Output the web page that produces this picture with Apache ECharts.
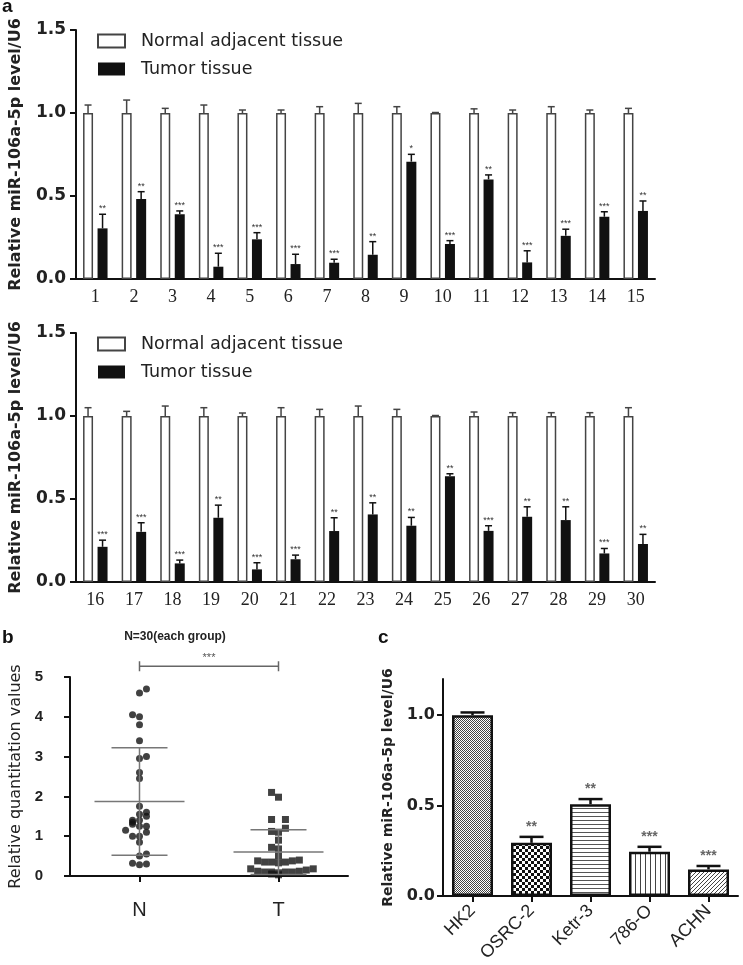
<!DOCTYPE html>
<html><head><meta charset="utf-8">
<script src="https://cdn.jsdelivr.net/npm/echarts@6/dist/echarts.min.js"></script>
<style>html,body{margin:0;padding:0;background:#fff}#c{width:743px;height:965px}</style>
</head><body><div id="c"></div>
<script>
// ---------------- DATA ----------------
const legendNames = ['Normal adjacent tissue', 'Tumor tissue'];
const casesTop = ['1','2','3','4','5','6','7','8','9','10','11','12','13','14','15'];
const casesBottom = ['16','17','18','19','20','21','22','23','24','25','26','27','28','29','30'];
const normalTop = [1,1,1,1,1,1,1,1,1,1,1,1,1,1,1];
const normalTopSD = [0.048,0.078,0.028,0.048,0.018,0.018,0.038,0.058,0.038,0.003,0.025,0.018,0.038,0.018,0.028];
const tumorTop = [0.305,0.482,0.39,0.074,0.239,0.09,0.098,0.146,0.707,0.211,0.60,0.10,0.26,0.375,0.41];
const tumorTopSD = [0.085,0.044,0.02,0.081,0.04,0.059,0.021,0.079,0.044,0.02,0.027,0.07,0.04,0.03,0.06];
const starsTop = ['**','**','***','***','***','***','***','**','*','***','**','***','***','***','**'];
const normalBottom = [1,1,1,1,1,1,1,1,1,1,1,1,1,1,1];
const normalBottomSD = [0.05,0.028,0.06,0.05,0.018,0.05,0.04,0.06,0.04,0.003,0.024,0.02,0.02,0.02,0.05];
const tumorBottom = [0.212,0.302,0.112,0.387,0.076,0.137,0.307,0.407,0.339,0.637,0.308,0.393,0.373,0.172,0.229];
const tumorBottomSD = [0.04,0.055,0.02,0.076,0.04,0.025,0.08,0.07,0.05,0.015,0.031,0.06,0.08,0.03,0.058];
const starsBottom = ['***','***','***','**','***','***','**','**','**','**','***','**','**','***','**'];

const groupsB = ['N', 'T'];
const nValues = [4.7,4.6,4.05,4.0,3.8,3.4,3.0,2.95,2.6,2.45,1.75,1.6,1.55,1.5,1.4,1.4,1.35,1.3,1.25,1.25,1.15,1.1,1.0,1.0,0.85,0.55,0.5,0.32,0.3,0.28];
const nJitterX = [1.05,1.0,0.95,1.0,1.0,1.0,1.05,1.0,1.0,1.0,1.0,1.05,1.0,1.05,0.95,1.0,0.95,0.95,1.0,1.05,0.9,1.05,0.95,1.0,1.0,1.05,1.0,0.95,1.05,1.0];
const tValues = [2.1,1.98,1.42,1.42,1.2,1.12,1.1,0.9,0.72,0.68,0.5,0.38,0.35,0.35,0.33,0.35,0.38,0.4,0.18,0.12,0.1,0.1,0.08,0.1,0.1,0.12,0.15,0.18,0.03,0.05];
const tJitterX = [1.95,2.0,1.95,2.05,2.05,1.95,2.0,2.0,1.95,2.0,2.0,1.85,1.9,1.95,2.0,2.05,2.1,2.15,1.8,1.85,1.9,1.95,2.0,2.05,2.1,2.15,2.2,2.25,2.0,1.95];
const groupMean = [1.87, 0.60];
const groupSD = [1.35, 0.56];
const bracketStars = '***';
const bracketLevel = 5.27;

const cellLines = ['HK2', 'OSRC-2', 'Ketr-3', '786-O', 'ACHN'];
const cellValues = [1.0, 0.294, 0.508, 0.245, 0.147];
const cellSD = [0.015, 0.033, 0.028, 0.027, 0.019];
const cellStars = ['', '**', '**', '***', '***'];

// ---------------- STYLE HELPERS ----------------
const SANS = 'Liberation Sans, Arial, sans-serif';
const WIDE = 'DejaVu Sans, Liberation Sans, sans-serif';
const SERIF = 'Liberation Serif, Times New Roman, serif';
const AX = '#111';

function pat(w, h, ink, draw) {
  const c = document.createElement('canvas'); c.width = w; c.height = h;
  const g = c.getContext('2d'); g.fillStyle = '#fff'; g.fillRect(0, 0, w, h);
  g.fillStyle = ink; draw(g);
  return { image: c, repeat: 'repeat' };
}
const patterns = [
  pat(2, 2, '#444', g => { g.fillRect(0, 0, 1, 1); g.fillRect(1, 1, 1, 1); }),
  pat(6, 6, '#111', g => { g.fillRect(0, 0, 3, 3); g.fillRect(3, 3, 3, 3); }),
  pat(4, 4, '#555', g => { g.fillRect(0, 0, 4, 1); }),
  pat(5, 5, '#444', g => { g.fillRect(0, 0, 1, 5); }),
  pat(4, 4, '#444', g => { for (let i = 0; i < 4; i++) g.fillRect(i, 3 - i, 1, 1); })
];

function valueAxisA(gi) {
  return {
    type: 'value', gridIndex: gi, min: 0, max: 1.5, interval: 0.5,
    name: 'Relative miR-106a-5p level/U6', nameLocation: 'middle', nameGap: 52,
    nameTextStyle: { fontFamily: WIDE, fontSize: 16, fontWeight: 'bold', color: '#222' },
    axisLine: { show: true, lineStyle: { color: AX, width: 2 } },
    axisTick: { show: true, length: 6, lineStyle: { color: AX, width: 2 } },
    axisLabel: { fontFamily: WIDE, fontSize: 17, fontWeight: 'bold', color: '#222', margin: 10, formatter: v => v.toFixed(1) },
    splitLine: { show: false }
  };
}
function catAxisA(gi, data) {
  return {
    type: 'category', gridIndex: gi, data: data, boundaryGap: true,
    axisLine: { lineStyle: { color: AX, width: 2 } }, axisTick: { show: false },
    axisLabel: { fontFamily: SERIF, fontSize: 18, color: '#222', margin: 9 }
  };
}
function errRenderer(stars) {
  return function (params, api) {
    const i = api.value(0);
    const children = [];
    const groups = [[api.value(1), api.value(2), -7.25, '#444'], [api.value(3), api.value(4), 7.25, '#111']];
    groups.forEach(function (g, k) {
      const base = api.coord([i, g[0]]);
      const top = api.coord([i, g[0] + g[1]]);
      const x = base[0] + g[2];
      children.push({ type: 'line', shape: { x1: x, y1: base[1], x2: x, y2: top[1] }, style: { stroke: g[3], lineWidth: 1.5 } });
      children.push({ type: 'line', shape: { x1: x - 3.5, y1: top[1], x2: x + 3.5, y2: top[1] }, style: { stroke: g[3], lineWidth: 1.5 } });
      if (k === 1) {
        children.push({ type: 'text', style: { text: stars[params.dataIndex], x: x, y: top[1] - 1, align: 'center', verticalAlign: 'bottom', fontSize: 9, fontFamily: SANS, fill: '#333' } });
      }
    });
    return { type: 'group', children: children };
  };
}
function errData(n, nsd, t, tsd) { return n.map((v, i) => [i, v, nsd[i], t[i], tsd[i]]); }

const barNormal = { color: '#fff', borderColor: '#444', borderWidth: 1.5 };
const barTumor = { color: '#111' };

const option = {
  animation: false,
  backgroundColor: '#fff',
  grid: [
    { left: 75, top: 30, width: 580, height: 249 },
    { left: 75, top: 333, width: 580, height: 249 },
    { left: 70, top: 677, width: 278, height: 199 },
    { left: 443, top: 679, width: 295, height: 217 }
  ],
  legend: [0, 1].map(k => ({
    data: legendNames, left: 97, top: k === 0 ? 32 : 335, orient: 'vertical', padding: 0,
    itemWidth: 27, itemHeight: 13, itemGap: 10, selectedMode: false, icon: 'rect',
    textStyle: { fontFamily: WIDE, fontSize: 17.5, color: '#222', padding: [0, 0, 0, 11] }
  })),
  xAxis: [
    catAxisA(0, casesTop),
    catAxisA(1, casesBottom),
    { type: 'category', gridIndex: 2, data: groupsB, boundaryGap: true,
      axisLine: { lineStyle: { color: AX, width: 2 } },
      axisTick: { show: true, alignWithLabel: true, length: 6, lineStyle: { color: AX, width: 2 } },
      axisLabel: { fontFamily: SANS, fontSize: 20, color: '#222', margin: 24 } },
    { type: 'value', gridIndex: 2, min: 0.5, max: 2.5, show: false },
    { type: 'category', gridIndex: 3, data: cellLines, boundaryGap: true,
      axisLine: { lineStyle: { color: AX, width: 2 } },
      axisTick: { show: true, alignWithLabel: true, length: 6, lineStyle: { color: AX, width: 2 } },
      axisLabel: { fontFamily: SANS, fontSize: 18, color: '#222', rotate: 45, margin: 12 } }
  ],
  yAxis: [
    valueAxisA(0),
    valueAxisA(1),
    { type: 'value', gridIndex: 2, min: 0, max: 5, interval: 1,
      name: 'Relative quantitation values', nameLocation: 'middle', nameGap: 46,
      nameTextStyle: { fontFamily: WIDE, fontSize: 16, color: '#222' },
      axisLine: { show: true, lineStyle: { color: AX, width: 2 } },
      axisTick: { show: true, length: 6, lineStyle: { color: AX, width: 2 } },
      axisLabel: { fontFamily: SANS, fontSize: 15, fontWeight: 'bold', color: '#222', margin: 27 },
      splitLine: { show: false } },
    { type: 'value', gridIndex: 3, min: 0, max: 1.2,
      name: 'Relative miR-106a-5p level/U6', nameLocation: 'middle', nameGap: 48,
      nameTextStyle: { fontFamily: WIDE, fontSize: 14, fontWeight: 'bold', color: '#222' },
      axisLine: { show: true, lineStyle: { color: AX, width: 2 } },
      axisTick: { show: true, length: 6, customValues: [0, 0.5, 1.0], lineStyle: { color: AX, width: 2 } },
      axisLabel: { fontFamily: WIDE, fontSize: 16, fontWeight: 'bold', color: '#222', margin: 8, customValues: [0, 0.5, 1.0], formatter: v => v.toFixed(1) },
      splitLine: { show: false } }
  ],
  series: [
    { type: 'bar', name: legendNames[0], xAxisIndex: 0, yAxisIndex: 0, data: normalTop, barWidth: 10, barGap: '45%', itemStyle: barNormal },
    { type: 'bar', name: legendNames[1], xAxisIndex: 0, yAxisIndex: 0, data: tumorTop, barWidth: 10, barGap: '45%', itemStyle: barTumor },
    { type: 'custom', xAxisIndex: 0, yAxisIndex: 0, data: errData(normalTop, normalTopSD, tumorTop, tumorTopSD), renderItem: errRenderer(starsTop), clip: false, z: 5 },
    { type: 'bar', name: legendNames[0], xAxisIndex: 1, yAxisIndex: 1, data: normalBottom, barWidth: 10, barGap: '45%', itemStyle: barNormal },
    { type: 'bar', name: legendNames[1], xAxisIndex: 1, yAxisIndex: 1, data: tumorBottom, barWidth: 10, barGap: '45%', itemStyle: barTumor },
    { type: 'custom', xAxisIndex: 1, yAxisIndex: 1, data: errData(normalBottom, normalBottomSD, tumorBottom, tumorBottomSD), renderItem: errRenderer(starsBottom), clip: false, z: 5 },
    { type: 'scatter', name: 'N', xAxisIndex: 3, yAxisIndex: 2, symbol: 'circle', symbolSize: 7, itemStyle: { color: '#111' },
      data: nValues.map((v, i) => [nJitterX[i], v]) },
    { type: 'scatter', name: 'T', xAxisIndex: 3, yAxisIndex: 2, symbol: 'rect', symbolSize: 7, itemStyle: { color: '#111' },
      data: tValues.map((v, i) => [tJitterX[i], v]) },
    { type: 'custom', xAxisIndex: 3, yAxisIndex: 2, clip: false, z: 4,
      data: groupMean.map((m, i) => [i + 1, m, groupSD[i]]),
      renderItem: function (params, api) {
        const x = api.value(0), m = api.value(1), sd = api.value(2);
        const c = api.coord([x, m]), hi = api.coord([x, m + sd]), lo = api.coord([x, Math.max(0, m - sd)]);
        const st = { stroke: '#777', lineWidth: 1.5 };
        return { type: 'group', children: [
          { type: 'line', shape: { x1: c[0] - 45, y1: c[1], x2: c[0] + 45, y2: c[1] }, style: st },
          { type: 'line', shape: { x1: c[0] - 28, y1: hi[1], x2: c[0] + 28, y2: hi[1] }, style: st },
          { type: 'line', shape: { x1: c[0] - 28, y1: lo[1], x2: c[0] + 28, y2: lo[1] }, style: st },
          { type: 'line', shape: { x1: c[0], y1: lo[1], x2: c[0], y2: hi[1] }, style: st }
        ] };
      } },
    { type: 'custom', xAxisIndex: 3, yAxisIndex: 2, clip: false, z: 4,
      data: [[1, 2, bracketLevel]],
      renderItem: function (params, api) {
        const a = api.coord([api.value(0), api.value(2)]), b = api.coord([api.value(1), api.value(2)]);
        const st = { stroke: '#666', lineWidth: 1.5 };
        return { type: 'group', children: [
          { type: 'line', shape: { x1: a[0], y1: a[1], x2: b[0], y2: b[1] }, style: st },
          { type: 'line', shape: { x1: a[0], y1: a[1] - 5, x2: a[0], y2: a[1] + 5 }, style: st },
          { type: 'line', shape: { x1: b[0], y1: b[1] - 5, x2: b[0], y2: b[1] + 5 }, style: st },
          { type: 'text', style: { text: bracketStars, x: (a[0] + b[0]) / 2, y: a[1] - 3, align: 'center', verticalAlign: 'bottom', fontSize: 11, fontFamily: SANS, fill: '#555' } }
        ] };
      } },
    { type: 'bar', name: 'cells', xAxisIndex: 4, yAxisIndex: 3, barWidth: 41,
      data: cellValues.map((v, i) => ({ value: v, itemStyle: { color: patterns[i], borderColor: '#111', borderWidth: 2.5 } })) },
    { type: 'custom', xAxisIndex: 4, yAxisIndex: 3, clip: false, z: 5,
      data: cellValues.map((v, i) => [i, v, cellSD[i]]),
      renderItem: function (params, api) {
        const i = api.value(0), v = api.value(1), sd = api.value(2);
        const base = api.coord([i, v]), top = api.coord([i, v + sd]);
        const st = { stroke: '#111', lineWidth: 2.5 };
        return { type: 'group', children: [
          { type: 'line', shape: { x1: base[0], y1: base[1], x2: base[0], y2: top[1] }, style: st },
          { type: 'line', shape: { x1: base[0] - 12, y1: top[1], x2: base[0] + 12, y2: top[1] }, style: st },
          { type: 'text', style: { text: cellStars[params.dataIndex], x: base[0], y: top[1] - 3, align: 'center', verticalAlign: 'bottom', fontSize: 14, fontWeight: 'bold', fontFamily: SANS, fill: '#666' } }
        ] };
      } }
  ],
  graphic: [
    { type: 'text', left: 2, top: -3, style: { text: 'a', fontFamily: SANS, fontSize: 19, fontWeight: 'bold', fill: '#111' } },
    { type: 'text', left: 2, top: 628, style: { text: 'b', fontFamily: SANS, fontSize: 19, fontWeight: 'bold', fill: '#111' } },
    { type: 'text', left: 378, top: 628, style: { text: 'c', fontFamily: SANS, fontSize: 19, fontWeight: 'bold', fill: '#111' } },
    { type: 'text', x: 175, y: 637, style: { text: 'N=30(each group)', align: 'center', verticalAlign: 'middle', fontFamily: SANS, fontSize: 12, fontWeight: 'bold', fill: '#222' } }
  ]
};
const chart = echarts.init(document.getElementById('c'), null, { renderer: 'canvas' });
chart.setOption(option);
</script>
</body></html>
